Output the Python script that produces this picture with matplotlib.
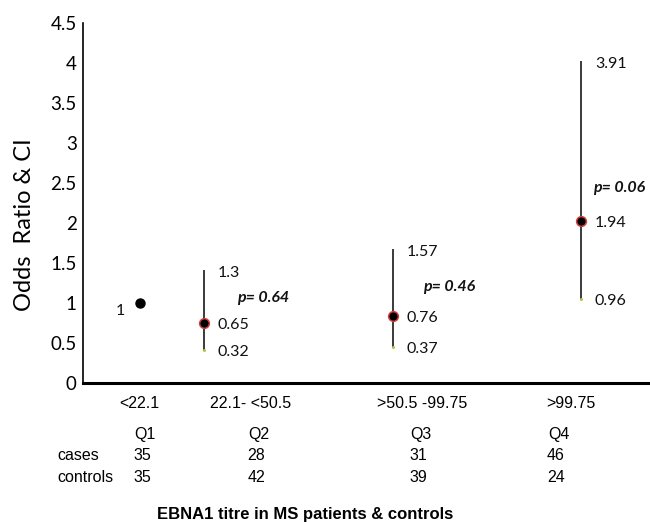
import matplotlib
matplotlib.use("Agg")
import matplotlib.pyplot as plt
import matplotlib.transforms as mtransforms
import numpy as np

# data
categories = ['<22.1', '22.1- <50.5', '>50.5 -99.75', '>99.75']
quartiles = ['Q1', 'Q2', 'Q3', 'Q4']
cases = [35, 28, 31, 46]
controls = [35, 42, 39, 24]
or_plot = [1.0, 0.75, 0.84, 2.02]          # where the dots sit
ci_low = [np.nan, 0.41, 0.45, 1.05]
ci_high = [np.nan, 1.40, 1.66, 4.01]
or_lab = ['1', '0.65', '0.76', '1.94']    # printed values
low_lab = ['', '0.32', '0.37', '0.96']
high_lab = ['', '1.3', '1.57', '3.91']
p_lab = ['', 'p= 0.64', 'p= 0.46', 'p= 0.06']

# layout (x in px from the y axis)
pt_x = [57, 121, 310, 498]
tick_x = [56, 168, 339, 488]
col_x = [62, 176, 338, 476]
p_pos = [None, (154, 1.06), (340, 1.20), (510, 2.44)]

W, H = 650, 522
fig = plt.figure(figsize=(W / 100, H / 100), dpi=100)
ax = fig.add_axes([83 / W, 1 - 383 / H, 565 / W, 360 / H])
ax.set_xlim(0, 565)
ax.set_ylim(0, 4.5)

num_font = 'Lato'
arial = 'Liberation Sans'

for i in range(4):
    if not np.isnan(ci_low[i]):
        ax.plot([pt_x[i], pt_x[i]], [ci_low[i], ci_high[i]], color='#3a3a3a', lw=1.4, zorder=2)
        ax.plot(pt_x[i], ci_low[i], 'o', ms=2.2, color='#a8c84a', mec='none', zorder=3)
        ax.plot(pt_x[i], or_plot[i], 'o', ms=7, color='black', mec='#d04040', mew=1.1, zorder=4)
        for v, s in [(ci_high[i], high_lab[i]), (or_plot[i], or_lab[i]), (ci_low[i], low_lab[i])]:
            ax.annotate(s, (pt_x[i], v), xytext=(10, -1.5), textcoords='offset points',
                        ha='left', va='center', fontsize=11.5, family=num_font, color='#111111')
        px, py = p_pos[i]
        ax.text(px, py, p_lab[i], ha='left', va='center', fontsize=11.5, family=num_font,
                fontweight='bold', fontstyle='italic', color='#111111')
    else:
        ax.plot(pt_x[i], or_plot[i], 'o', ms=6.5, color='black', zorder=4)
        ax.annotate(or_lab[i], (pt_x[i], or_plot[i]), xytext=(-14, -6), textcoords='offset points',
                    ha='center', va='center', fontsize=11.5, family=num_font, color='#111111')

for s in ['top', 'right']:
    ax.spines[s].set_visible(False)
ax.spines['left'].set_linewidth(1.2)
ax.spines['bottom'].set_linewidth(2.2)

ax.set_yticks(np.arange(0, 4.51, 0.5))
ax.set_yticklabels(['0', '0.5', '1', '1.5', '2', '2.5', '3', '3.5', '4', '4.5'],
                   fontsize=13.5, family=num_font)
ax.set_xticks(tick_x)
ax.set_xticklabels(categories, fontsize=11.5, family=arial)
ax.tick_params(axis='both', length=0)
ax.tick_params(axis='y', pad=4.5)
ax.tick_params(axis='x', pad=9)

fig.text(25 / W, 1 - 225 / H, 'Odds  Ratio & CI', rotation=90, ha='center', va='center',
         fontsize=17, family=num_font)

# counts table under the axis
tr = mtransforms.blended_transform_factory(ax.transData, fig.transFigure)
for i in range(4):
    fig.text(col_x[i], 1 - 435 / H, quartiles[i], transform=tr, ha='center', va='center',
             fontsize=11.5, family=arial)
    fig.text(col_x[i] - 3, 1 - 456 / H, str(cases[i]), transform=tr, ha='center', va='center',
             fontsize=11.5, family=arial)
    fig.text(col_x[i] - 3, 1 - 477 / H, str(controls[i]), transform=tr, ha='center', va='center',
             fontsize=11.5, family=arial)
fig.text(57 / W, 1 - 456 / H, 'cases', ha='left', va='center', fontsize=11.5, family=arial)
fig.text(57 / W, 1 - 477 / H, 'controls', ha='left', va='center', fontsize=11.5, family=arial)

fig.text(305 / W, 1 - 515 / H, 'EBNA1 titre in MS patients & controls', ha='center', va='center',
         fontsize=12, family=arial, fontweight='bold')

fig.savefig('out.png', dpi=100)
